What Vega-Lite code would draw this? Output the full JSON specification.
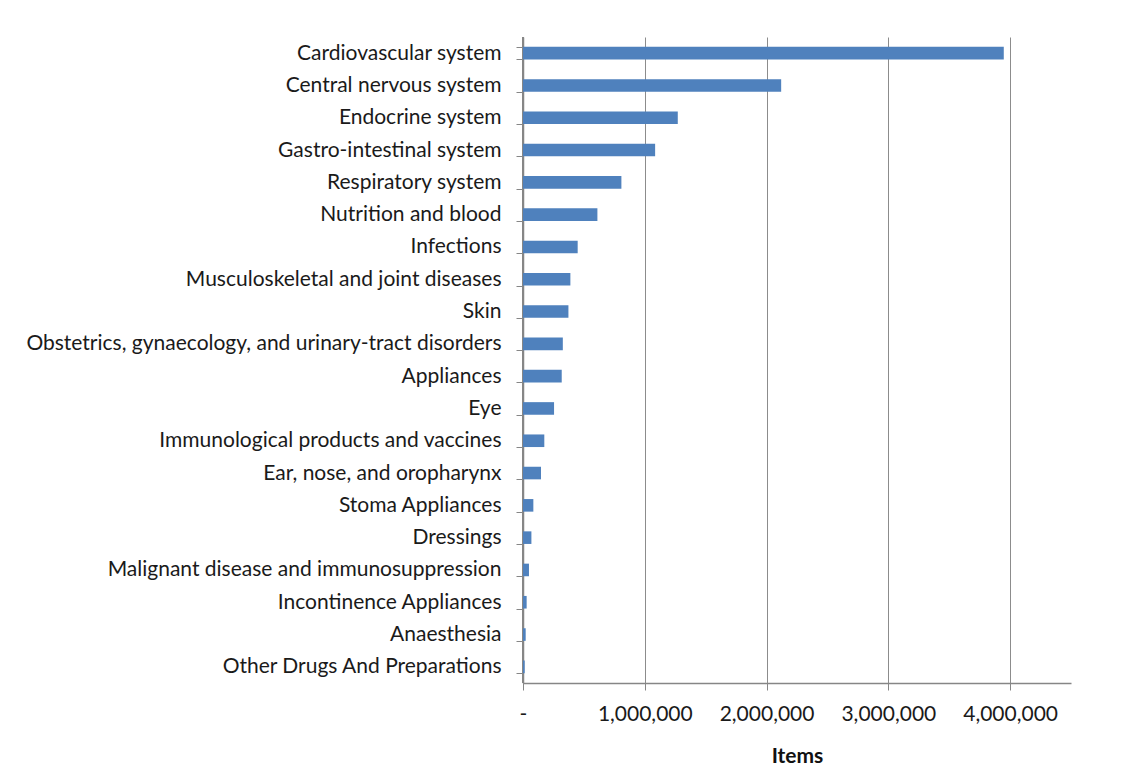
{
  "$schema": "https://vega.github.io/schema/vega-lite/v6.json",
  "autosize": {"type": "none"},
  "padding": {"left": 523, "top": 37, "right": 62, "bottom": 99},
  "width": 548,
  "height": 646,
  "background": "white",
  "data": {
    "values": [
      {"category": "Cardiovascular system", "items": 3948000},
      {"category": "Central nervous system", "items": 2120000},
      {"category": "Endocrine system", "items": 1271000},
      {"category": "Gastro-intestinal system", "items": 1085000},
      {"category": "Respiratory system", "items": 808000},
      {"category": "Nutrition and blood", "items": 611000},
      {"category": "Infections", "items": 449000},
      {"category": "Musculoskeletal and joint diseases", "items": 389000},
      {"category": "Skin", "items": 373000},
      {"category": "Obstetrics, gynaecology, and urinary-tract disorders", "items": 327000},
      {"category": "Appliances", "items": 318000},
      {"category": "Eye", "items": 255000},
      {"category": "Immunological products and vaccines", "items": 175000},
      {"category": "Ear, nose, and oropharynx", "items": 148000},
      {"category": "Stoma Appliances", "items": 85000},
      {"category": "Dressings", "items": 69000},
      {"category": "Malignant disease and immunosuppression", "items": 49000},
      {"category": "Incontinence Appliances", "items": 30000},
      {"category": "Anaesthesia", "items": 22000},
      {"category": "Other Drugs And Preparations", "items": 14000}
    ]
  },
  "layer": [
    {
      "mark": {"type": "rule", "color": "#868686", "strokeWidth": 1.5},
      "encoding": {"x": {"datum": 0, "type": "quantitative"}}
    },
    {
      "mark": {"type": "bar", "color": "#4F81BD"},
      "encoding": {
        "y": {
          "field": "category",
          "type": "nominal",
          "sort": null,
          "scale": {"paddingInner": 0.61, "paddingOuter": 0.305},
          "axis": {
            "title": null,
            "tickBand": "extent",
            "tickSize": 7,
            "tickColor": "#868686",
            "domain": true,
            "domainColor": "#868686",
            "domainWidth": 1.5,
            "labelPadding": 15,
            "labelFont": "Lato",
            "labelFontSize": 21,
            "labelColor": "#1a1a1a",
            "labelLimit": 600,
            "grid": false
          }
        },
        "x": {
          "field": "items",
          "type": "quantitative",
          "scale": {"domain": [0, 4500000], "nice": false},
          "axis": {
            "values": [0, 1000000, 2000000, 3000000, 4000000],
            "labelExpr": "datum.value == 0 ? '-\u00a0\u00a0\u00a0' : format(datum.value, ',')",
            "title": "Items",
            "titleFont": "Lato",
            "titleFontSize": 21,
            "titleFontWeight": "bold",
            "titleColor": "#111111",
            "titlePadding": 21,
            "grid": true,
            "gridColor": "#8c8c8c",
            "gridWidth": 1,
            "tickSize": 7,
            "tickColor": "#868686",
            "domainColor": "#868686",
            "domainWidth": 1.5,
            "labelFont": "Lato",
            "labelFontSize": 21,
            "labelColor": "#1a1a1a",
            "labelPadding": 13,
            "labelFlush": false,
            "labelOverlap": false
          }
        }
      }
    }
  ],
  "config": {
    "view": {"stroke": null}
  }
}
